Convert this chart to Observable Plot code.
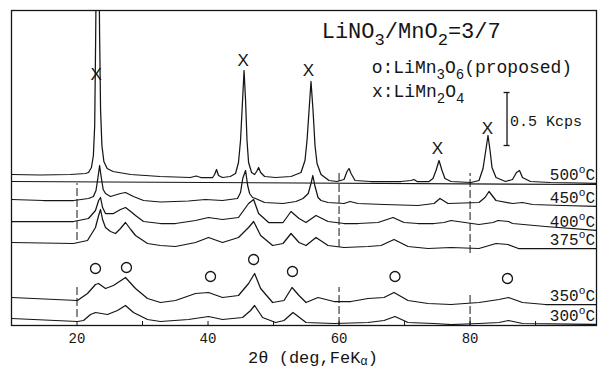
<!DOCTYPE html>
<html>
<head>
<meta charset="utf-8">
<script src="https://cdn.jsdelivr.net/npm/d3@7"></script>
<script src="https://cdn.jsdelivr.net/npm/@observablehq/plot@0.6"></script>
<style>
  html, body { margin: 0; padding: 0; background: #fff; }
  #chart svg { display: block; }
</style>
</head>
<body>
<div id="chart"></div>
<script>
// ---- Data: XRD patterns, [2θ (deg), offset intensity (a.u.)] ----
const temperatures = ["500", "450", "400", "375", "350", "300"];

const pattern500 = [
  [10.0,151],[14.4,150.5],[19.0,151],[21.3,152],[21.75,153],[22.2,158],[22.5,170],[22.7,200],[22.85,290],[23.0,400],
  [23.3,400],[23.45,290],[23.6,215],[23.8,180],[24.1,164],[24.6,157],[25.5,154],[28.2,151],[32.7,149],[37.3,148],
  [38.2,149.5],[38.9,148],[40.7,148],[41.0,151],[41.3,156],[41.6,150],[42.2,148],[43.4,149],[44.2,152],[44.65,163],
  [44.96,185],[45.27,225],[45.5,255],[45.73,225],[45.95,185],[46.19,163],[46.65,153],[47.11,151],[47.42,154],[47.72,158],
  [48.03,153],[48.64,149],[50.3,148],[52.67,149],[54.19,153],[54.8,165],[55.11,185],[55.42,215],[55.72,244],[56.03,215],
  [56.33,180],[56.64,162],[57.25,151],[58.47,145],[59.69,144],[60.76,146],[61.22,154],[61.53,157],[61.83,152],[62.44,145],
  [64.88,144],[69.46,144],[70.99,145],[71.44,146],[71.9,144],[73.73,144],[74.34,147],[74.8,155],[75.26,165],[75.72,155],
  [76.17,147],[77.09,144],[80.14,143],[81.36,145],[81.98,157],[82.28,170],[82.74,190],[83.05,175],[83.35,158],[83.96,148],
  [85.41,144],[86.48,146],[87.09,153],[87.55,155],[88.0,148],[89.22,144],[92.28,143],[99.3,142]
];

const pattern450 = [
  [10.0,126],[14.9,125],[19.5,125],[21.75,127],[22.5,129],[22.9,135],[23.2,148],[23.45,160],[23.7,148],[24.0,136],
  [24.35,132],[25.11,129],[26.64,132],[27.4,133],[28.62,129],[30.15,125],[32.74,123.5],[35.0,124],[37.0,124.5],[39.6,126],
  [42.2,125],[44.5,127],[44.96,133],[45.3,147],[45.73,155],[46.05,140],[46.35,132],[46.8,128],[47.26,127],[48.64,123],
  [51.45,122],[53.43,124],[54.5,127],[55.3,132],[55.72,142],[56.0,150],[56.3,140],[56.79,128],[57.25,125],[58.32,123],
  [60.76,122],[61.67,124],[62.89,122],[66.87,121],[72.05,120],[74.5,122],[75.41,127],[76.63,122],[81.36,123],[82.28,128],
  [82.89,134],[83.96,125],[86.48,122],[88.0,123],[89.53,121],[94.11,120],[99.3,119]
];

const pattern400 = [
  [10.0,104],[19.46,104],[21.75,107],[22.82,115],[23.3,125],[23.59,128],[23.9,118],[24.35,112],[25.57,112],[26.64,116],
  [27.4,118],[28.2,114],[28.93,110],[30.15,104],[32.74,102],[35.03,102],[38.09,105],[40.07,108],[42.21,106],[44.65,108],
  [46.19,122],[46.96,126],[47.72,112],[49.25,103],[51.45,103],[52.67,114],[53.89,107],[54.96,103],[56.48,110],[58.32,104],
  [60.76,102],[62.89,102],[65.95,103],[68.24,108],[69.92,103],[72.05,102],[74.5,102],[76.02,103],[77.09,105],[81.36,101],
  [83.5,103],[84.27,105],[85.87,104],[86.48,102],[91.51,99],[99.3,95]
];

const pattern375 = [
  [10.0,83],[19.46,82],[21.6,85],[22.82,98],[23.3,110],[23.59,116],[23.9,106],[24.35,98],[25.11,94],[25.88,92],
  [26.64,97],[27.4,103],[28.2,96],[28.93,90],[30.76,82],[32.74,80],[35.03,79],[38.09,83],[40.07,88],[42.21,83],
  [44.65,88],[46.19,98],[46.96,104],[47.42,98],[48.03,90],[49.86,80],[51.45,82],[52.67,92],[53.89,83],[54.96,80],
  [56.48,88],[58.32,80],[60.76,78],[64.42,79],[66.41,80],[68.39,86],[70.53,79],[73.58,77],[77.09,78],[81.36,77],
  [83.96,82],[85.79,81],[87.39,77],[91.51,77],[99.3,77]
];

const pattern350 = [
  [10.0,28],[20.07,25],[21.6,32],[22.82,41],[23.28,42],[24.35,37],[25.57,40],[27.4,48],[28.93,37],[30.76,27],
  [32.74,23],[35.03,25],[38.09,32],[40.07,33],[42.21,28],[44.65,30],[46.19,42],[47.11,52],[48.03,37],[49.86,23],
  [51.6,25],[52.82,38],[53.89,30],[54.96,23],[56.79,28],[59.23,24],[61.83,24],[64.42,27],[66.87,28],[68.39,33],
  [70.53,25],[73.58,22],[77.09,21],[81.36,23],[84.42,26],[85.87,28],[88.0,23],[91.51,21],[99.3,21]
];

const pattern300 = [
  [10.0,7],[20.07,4],[21.0,5],[22.06,11],[22.82,13],[24.65,11],[26.18,15],[27.4,20],[28.62,13],[30.76,6],
  [32.74,4],[37.02,6],[40.07,9],[42.21,6],[45.27,8],[46.5,15],[47.11,20],[48.33,8],[50.32,3],[51.6,5],
  [52.97,13],[54.96,3],[59.23,2],[64.42,3],[66.87,5],[68.54,9],[70.53,3],[74.5,2],[77.09,1],[81.36,2],
  [84.42,3],[85.87,5],[88.0,2],[99.3,1]
];

// LiMn2O4 peaks marked "X" (above 500 °C pattern) and proposed LiMn3O6 peaks "o" (above 350 °C)
const spinelMarks = [[22.93,251],[45.37,265],[55.34,255],[75.03,177],[82.66,197]];
const proposedMarks = [[22.82,57],[27.55,58],[40.38,49],[46.96,66],[52.89,54],[68.54,49],[85.71,47]];

// Tick labels / guide lines
const tickLabels = [20, 40, 60, 80];
const minorTicks = [20, 30, 40, 50, 60, 70, 80, 90];
const guideSegments = [[20,85,142],[20,8,40],[60,78,153],[60,0,38],[80,72,152],[80,0,32]];
const separatorLine = [[10,144],[99.3,141]];
const scaleBar = {x: 85.64, y1: 180, y2: 233, label: "0.5 Kcps"};

// ---- Build ----
const INK = "#151515";
const MONO = "'Liberation Mono', 'DejaVu Sans Mono', monospace";
const patterns = [pattern500, pattern450, pattern400, pattern375, pattern350, pattern300];
const rows = patterns.flatMap((p, i) => p.map(([x, y]) => ({temp: temperatures[i], x, y})));
const ends = patterns.map((p, i) => ({temp: temperatures[i], y: p[p.length - 1][1] + 3}));

const NS = "http://www.w3.org/2000/svg";
// Rich text (sub/superscripts) positioned through Plot's scales
function rich(xv, yv, str, o = {}) {
  const {size = 14, anchor = "start", family = MONO, scale = 0.78, sub = 0.32, sup = -0.42, dx = 0} = o;
  return (index, scales) => {
    const sx = scales.x, sy = scales.y;
    const t = document.createElementNS(NS, "text");
    t.setAttribute("x", sx(xv) + dx);
    t.setAttribute("y", sy(yv));
    t.setAttribute("font-family", family);
    t.setAttribute("font-size", size);
    t.setAttribute("text-anchor", anchor);
    t.setAttribute("fill", INK);
    t.setAttribute("xml:space", "preserve");
    let shift = 0;
    const add = (s, kind) => {
      const sp = document.createElementNS(NS, "tspan");
      const target = kind === "_" ? size * sub : kind === "^" ? size * sup : 0;
      sp.setAttribute("dy", target - shift);
      shift = target;
      if (kind) sp.setAttribute("font-size", size * scale);
      sp.textContent = s;
      t.appendChild(sp);
    };
    const re = /([_^])\{([^}]*)\}/g;
    let last = 0, m;
    while ((m = re.exec(str))) {
      if (m.index > last) add(str.slice(last, m.index), null);
      add(m[2], m[1]);
      last = re.lastIndex;
    }
    if (last < str.length) add(str.slice(last), null);
    return t;
  };
}

const chart = Plot.plot({
  width: 598,
  height: 369,
  marginTop: 10,
  marginLeft: 11,
  marginRight: 2,
  marginBottom: 44,
  style: {fontFamily: MONO, fontSize: "14px", color: INK, background: "#fff"},
  x: {domain: [10, 99.3], ticks: tickLabels, tickSize: 0, tickPadding: 8, label: null},
  y: {domain: [0, 315], axis: null},
  marks: [
    Plot.ruleX(guideSegments, {x: d => d[0], y1: d => d[1], y2: d => d[2], stroke: INK, strokeWidth: 1, strokeDasharray: "8,3"}),
    Plot.ruleX(minorTicks, {y1: 0, y2: 4, stroke: INK, strokeWidth: 1}),
    Plot.line(separatorLine, {x: d => d[0], y: d => d[1], stroke: INK, strokeWidth: 1.2}),
    Plot.line(rows, {x: "x", y: "y", z: "temp", stroke: INK, strokeWidth: 1.25, clip: true}),
    Plot.frame({stroke: INK, strokeWidth: 1.3}),
    Plot.text(spinelMarks, {x: d => d[0], y: d => d[1], text: () => "X", fontFamily: "'Liberation Sans', Arial, sans-serif", fontSize: 17, fill: INK}),
    Plot.dot(proposedMarks, {x: d => d[0], y: d => d[1], r: 5, stroke: INK, strokeWidth: 1.3, fill: "none"}),
    Plot.ruleX([scaleBar], {x: "x", y1: "y1", y2: "y2", stroke: INK, strokeWidth: 1.3}),
    Plot.ruleY([scaleBar.y1, scaleBar.y2], {x1: scaleBar.x - 0.45, x2: scaleBar.x + 0.45, stroke: INK, strokeWidth: 1.3}),
    rich(86.17, 199, scaleBar.label, {size: 15}),
    rich(57.43, 287, "LiNO_{3}/MnO_{2}=3/7", {size: 22}),
    rich(65.06, 252, "o:LiMn_{3}O_{6}(proposed)", {size: 18}),
    rich(65.1, 228, "x:LiMn_{2}O_{4}", {size: 18}),
    ...ends.map(e => rich(99.3, e.y, `${e.temp}^{o}C`, {size: 16, anchor: "end", dx: -1, scale: 0.7})),
    rich(56.1, -38, "2θ (deg,FeK_{α})", {size: 17, anchor: "middle", scale: 0.72, sub: 0.1})
  ]
});
document.getElementById("chart").appendChild(chart);
</script>
</body>
</html>
